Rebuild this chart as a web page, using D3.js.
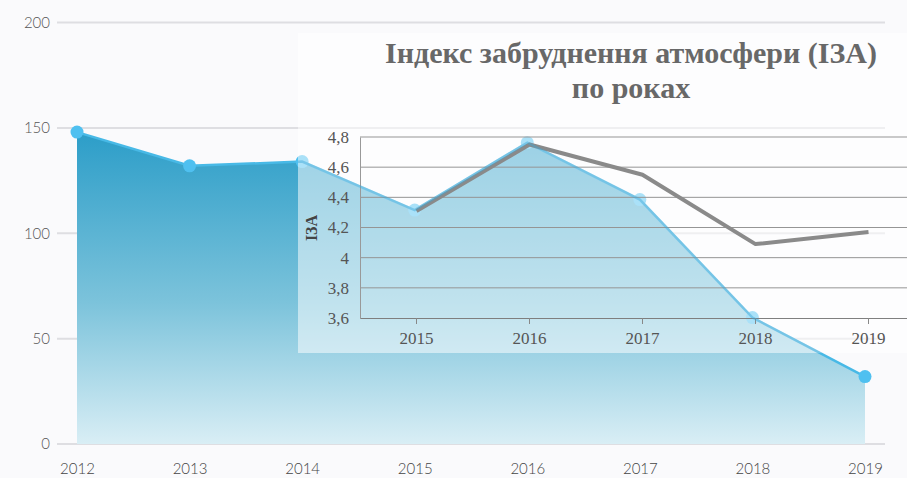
<!DOCTYPE html>
<html>
<head>
<meta charset="utf-8">
<script src="https://cdn.jsdelivr.net/npm/d3@7"></script>
<style>
  html, body { margin: 0; padding: 0; background: #fafafc; }
  svg { display: block; }
</style>
</head>
<body>
<svg id="chart" width="907" height="478"></svg>
<script>
// ---- data ----
const years = [2012, 2013, 2014, 2015, 2016, 2017, 2018, 2019];
const values = [148, 132, 134, 111, 143, 116, 60, 32];
const yTicks = [0, 50, 100, 150, 200];

const izaYears = [2015, 2016, 2017, 2018, 2019];
const izaValues = [4.31, 4.75, 4.55, 4.09, 4.17];
const izaTicks = [3.6, 3.8, 4.0, 4.2, 4.4, 4.6, 4.8];
const izaTickLabels = ["3,6", "3,8", "4", "4,2", "4,4", "4,6", "4,8"];
const titleLines = ["Індекс забруднення атмосфери (ІЗА)", "по роках"];
const izaAxisTitle = "ІЗА";

// ---- setup ----
const svg = d3.select("#chart");
const W = 907, H = 478;
svg.append("rect").attr("width", W).attr("height", H).attr("fill", "#fafafc");

const defs = svg.append("defs");
const grad = defs.append("linearGradient").attr("id", "areaGrad")
  .attr("gradientUnits", "userSpaceOnUse")
  .attr("x1", 0).attr("x2", 0).attr("y1", 130).attr("y2", 444);
grad.append("stop").attr("offset", "0%").attr("stop-color", "#2b9dc8");
grad.append("stop").attr("offset", "55%").attr("stop-color", "#7cc3db");
grad.append("stop").attr("offset", "100%").attr("stop-color", "#d9eef5");

const panel = { x: 298, y: 33, w: 609, h: 320 };
defs.append("clipPath").attr("id", "panelClip").append("rect")
  .attr("x", panel.x).attr("y", panel.y).attr("width", panel.w).attr("height", panel.h);

// ---- background area chart ----
const x = d3.scalePoint().domain(years).range([77, 865]);
const y = d3.scaleLinear().domain([0, 200]).range([444, 22.5]);

const gGrid = svg.append("g");
gGrid.selectAll("line").data(yTicks).join("line")
  .attr("x1", 57).attr("x2", 885)
  .attr("y1", d => y(d)).attr("y2", d => y(d))
  .attr("stroke", "#dedee2").attr("stroke-width", 2);

const yAxis = svg.append("g").attr("transform", "translate(50,0)")
  .call(d3.axisLeft(y).tickValues(yTicks).tickSize(0).tickPadding(0));
yAxis.select(".domain").remove();
yAxis.selectAll("text").attr("font-family", "Lato, 'Open Sans', sans-serif")
  .attr("font-size", 15).attr("fill", "#555").attr("font-weight", 300);

const xAxis = svg.append("g").attr("transform", "translate(0,460)")
  .call(d3.axisBottom(x).tickSize(0).tickPadding(3).tickFormat(d3.format("d")));
xAxis.select(".domain").remove();
xAxis.selectAll("text").attr("font-family", "Lato, 'Open Sans', sans-serif")
  .attr("font-size", 15).attr("fill", "#444").attr("font-weight", 300);

const data = years.map((yr, i) => ({ yr, v: values[i] }));
const area = d3.area().x(d => x(d.yr)).y0(y(0)).y1(d => y(d.v));
const line = d3.line().x(d => x(d.yr)).y(d => y(d.v));

svg.append("path").datum(data).attr("d", area).attr("fill", "url(#areaGrad)");
svg.append("path").datum(data).attr("d", line)
  .attr("fill", "none").attr("stroke", "#48b9e6").attr("stroke-width", 2.5);
svg.append("g").selectAll("circle").data(data).join("circle")
  .attr("cx", d => x(d.yr)).attr("cy", d => y(d.v)).attr("r", 6.5)
  .attr("fill", "#4fc0f0");

// ---- translucent panel ----
svg.append("rect").attr("x", panel.x).attr("y", panel.y)
  .attr("width", panel.w).attr("height", panel.h)
  .attr("fill", "#ffffff").attr("fill-opacity", 0.52);

// ---- inset chart ----
const inset = svg.append("g").attr("clip-path", "url(#panelClip)");
const xi = d3.scaleBand().domain(izaYears).range([360, 925]);
const yi = d3.scaleLinear().domain([3.6, 4.8]).range([318, 137]);

inset.selectAll("line.grid").data(izaTicks.slice(1)).join("line")
  .attr("class", "grid")
  .attr("x1", 360).attr("x2", 925)
  .attr("y1", d => yi(d)).attr("y2", d => yi(d))
  .attr("stroke", "#959595").attr("stroke-width", 1);

const yAxisI = inset.append("g").attr("transform", "translate(360,0)")
  .call(d3.axisLeft(yi).tickValues(izaTicks).tickSize(0).tickPadding(11)
    .tickFormat((d, i) => izaTickLabels[i]));
yAxisI.select(".domain").attr("stroke", "#999").attr("stroke-width", 1);
yAxisI.selectAll("text").attr("font-family", "'Liberation Serif', 'Times New Roman', serif")
  .attr("font-size", 17).attr("fill", "#555");

const xAxisI = inset.append("g").attr("transform", "translate(0,318)")
  .call(d3.axisBottom(xi).tickSize(6).tickSizeOuter(0).tickPadding(8));
xAxisI.select(".domain").attr("stroke", "#7f7f7f").attr("stroke-width", 1.2);
xAxisI.selectAll(".tick line").attr("stroke", "#888");
xAxisI.selectAll("text").attr("font-family", "'Liberation Serif', 'Times New Roman', serif")
  .attr("font-size", 17).attr("fill", "#555");

const izaData = izaYears.map((yr, i) => ({ yr, v: izaValues[i] }));
const lineI = d3.line().x(d => xi(d.yr) + xi.bandwidth() / 2).y(d => yi(d.v));
inset.append("path").datum(izaData).attr("d", lineI)
  .attr("fill", "none").attr("stroke", "#8a8a8a").attr("stroke-width", 4)
  .attr("stroke-linejoin", "round");

inset.append("text")
  .attr("transform", "translate(317,228) rotate(-90)")
  .attr("text-anchor", "middle")
  .attr("font-family", "'Liberation Serif', 'Times New Roman', serif")
  .attr("font-weight", "bold").attr("font-size", 16).attr("fill", "#444")
  .text(izaAxisTitle);

inset.selectAll("text.title").data(titleLines).join("text")
  .attr("class", "title")
  .attr("x", 631).attr("y", (d, i) => 63 + i * 35)
  .attr("text-anchor", "middle")
  .attr("font-family", "'Liberation Serif', 'Times New Roman', serif")
  .attr("font-weight", "bold").attr("font-size", 30).attr("fill", "#686868")
  .text(d => d);

// area edge seen over the inset
inset.append("path").datum(data).attr("d", line)
  .attr("fill", "none").attr("stroke", "#3aa6d6").attr("stroke-width", 2.5)
  .attr("stroke-opacity", 0.45);
</script>
</body>
</html>
